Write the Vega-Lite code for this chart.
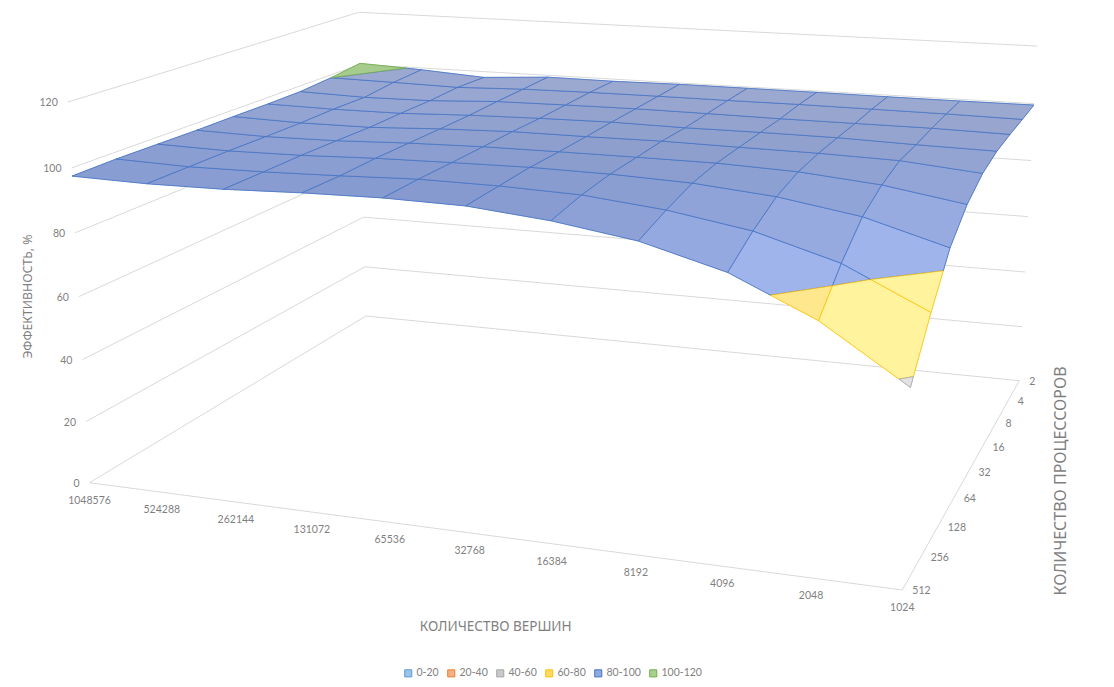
{
"$schema":"https://vega.github.io/schema/vega-lite/v6.json",
"width":1114,"height":687,"padding":0,
"autosize":{"type":"fit","contains":"padding"},
"background":"#ffffff",
"config":{"view":{"stroke":null}},
"datasets":{
"walls":[
{"level":"front","k":1,"i":0,"j":0,"e":0},{"level":"front","k":2,"i":10,"j":0,"e":0},{"level":"front","k":3,"i":10,"j":8,"e":0},
{"level":"0","k":1,"i":0,"j":0,"e":0},{"level":"0","k":2,"i":0,"j":8,"e":0},{"level":"0","k":3,"i":10,"j":8,"e":0},
{"level":"20","k":1,"i":0,"j":0,"e":20},{"level":"20","k":2,"i":0,"j":8,"e":20},{"level":"20","k":3,"i":10,"j":8,"e":20},
{"level":"40","k":1,"i":0,"j":0,"e":40},{"level":"40","k":2,"i":0,"j":8,"e":40},{"level":"40","k":3,"i":10,"j":8,"e":40},
{"level":"60","k":1,"i":0,"j":0,"e":60},{"level":"60","k":2,"i":0,"j":8,"e":60},{"level":"60","k":3,"i":10,"j":8,"e":60},
{"level":"80","k":1,"i":0,"j":0,"e":80},{"level":"80","k":2,"i":0,"j":8,"e":80},{"level":"80","k":3,"i":10,"j":8,"e":80},
{"level":"100","k":1,"i":0,"j":0,"e":100},{"level":"100","k":2,"i":0,"j":8,"e":100},{"level":"100","k":3,"i":10,"j":8,"e":100},
{"level":"120","k":1,"i":0,"j":0,"e":120},{"level":"120","k":2,"i":0,"j":8,"e":120},{"level":"120","k":3,"i":10,"j":8,"e":120}
],
"cells":[
{"cell":"0-0","band":"80-100","pts":[[0,0,97.5],[1,0,97.0],[1,1,97.1],[0,1,97.8],[0,0,97.5]]},
{"cell":"1-0","band":"80-100","pts":[[1,0,97.0],[2,0,97.2],[2,1,97.3],[1,1,97.1],[1,0,97.0]]},
{"cell":"2-0","band":"80-100","pts":[[2,0,97.2],[3,0,98.0],[3,1,97.9],[2,1,97.3],[2,0,97.2]]},
{"cell":"3-0","band":"80-100","pts":[[3,0,98.0],[4,0,98.4],[4,1,98.7],[3,1,97.9],[3,0,98.0]]},
{"cell":"4-0","band":"80-100","pts":[[4,0,98.4],[5,0,98.0],[5,1,98.5],[4,1,98.7],[4,0,98.4]]},
{"cell":"5-0","band":"80-100","pts":[[5,0,98.0],[6,0,95.7],[6,1,97.7],[5,1,98.5],[5,0,98.0]]},
{"cell":"6-0","band":"80-100","pts":[[6,0,95.7],[7,0,92.0],[7,1,95.2],[6,1,97.7],[6,0,95.7]]},
{"cell":"7-0","band":"80-100","pts":[[7,0,92.0],[8,0,85.3],[8,1,91.1],[7,1,95.2],[7,0,92.0]]},
{"cell":"8-0","band":"80-100","pts":[[8,0,85.3],[8.473,0,80],[9,0.602,80],[9,1,83.9],[8,1,91.1],[8,0,85.3]]},
{"cell":"8-0y","band":"60-80","pts":[[8.473,0,80],[9,0,74.1],[9,0.602,80],[8.473,0,80]]},
{"cell":"9-0","band":"80-100","pts":[[9,0.602,80],[9,1,83.9],[9.33,1,80],[9,0.602,80]]},
{"cell":"9-0y","band":"60-80","pts":[[9,0,74.1],[9.876,0,60],[10,0.14,60],[10,1,72.1],[9.33,1,80],[9,0.602,80],[9,0,74.1]]},
{"cell":"9-0g","band":"40-60","pts":[[9.876,0,60],[10,0,58.0],[10,0.14,60],[9.876,0,60]]},
{"cell":"0-1","band":"80-100","pts":[[0,1,97.8],[1,1,97.1],[1,2,97.2],[0,2,97.7],[0,1,97.8]]},
{"cell":"1-1","band":"80-100","pts":[[1,1,97.1],[2,1,97.3],[2,2,97.5],[1,2,97.2],[1,1,97.1]]},
{"cell":"2-1","band":"80-100","pts":[[2,1,97.3],[3,1,97.9],[3,2,98.3],[2,2,97.5],[2,1,97.3]]},
{"cell":"3-1","band":"80-100","pts":[[3,1,97.9],[4,1,98.7],[4,2,98.7],[3,2,98.3],[3,1,97.9]]},
{"cell":"4-1","band":"80-100","pts":[[4,1,98.7],[5,1,98.5],[5,2,99.0],[4,2,98.7],[4,1,98.7]]},
{"cell":"5-1","band":"80-100","pts":[[5,1,98.5],[6,1,97.7],[6,2,98.7],[5,2,99.0],[5,1,98.5]]},
{"cell":"6-1","band":"80-100","pts":[[6,1,97.7],[7,1,95.2],[7,2,97.8],[6,2,98.7],[6,1,97.7]]},
{"cell":"7-1","band":"80-100","pts":[[7,1,95.2],[8,1,91.1],[8,2,95.6],[7,2,97.8],[7,1,95.2]]},
{"cell":"8-1","band":"80-100","pts":[[8,1,91.1],[9,1,83.9],[9,2,91.6],[8,2,95.6],[8,1,91.1]]},
{"cell":"9-1","band":"80-100","pts":[[9.33,1,80],[10,1.637,80],[10,2,84.5],[9,2,91.6],[9,1,83.9],[9.33,1,80]]},
{"cell":"9-1y","band":"60-80","pts":[[9.33,1,80],[10,1,72.1],[10,1.637,80],[9.33,1,80]]},
{"cell":"0-2","band":"80-100","pts":[[0,2,97.7],[1,2,97.2],[1,3,97.1],[0,3,97.6],[0,2,97.7]]},
{"cell":"1-2","band":"80-100","pts":[[1,2,97.2],[2,2,97.5],[2,3,97.4],[1,3,97.1],[1,2,97.2]]},
{"cell":"2-2","band":"80-100","pts":[[2,2,97.5],[3,2,98.3],[3,3,98.3],[2,3,97.4],[2,2,97.5]]},
{"cell":"3-2","band":"80-100","pts":[[3,2,98.3],[4,2,98.7],[4,3,98.8],[3,3,98.3],[3,2,98.3]]},
{"cell":"4-2","band":"80-100","pts":[[4,2,98.7],[5,2,99.0],[5,3,98.9],[4,3,98.8],[4,2,98.7]]},
{"cell":"5-2","band":"80-100","pts":[[5,2,99.0],[6,2,98.7],[6,3,98.9],[5,3,98.9],[5,2,99.0]]},
{"cell":"6-2","band":"80-100","pts":[[6,2,98.7],[7,2,97.8],[7,3,98.8],[6,3,98.9],[6,2,98.7]]},
{"cell":"7-2","band":"80-100","pts":[[7,2,97.8],[8,2,95.6],[8,3,97.9],[7,3,98.8],[7,2,97.8]]},
{"cell":"8-2","band":"80-100","pts":[[8,2,95.6],[9,2,91.6],[9,3,95.7],[8,3,97.9],[8,2,95.6]]},
{"cell":"9-2","band":"80-100","pts":[[9,2,91.6],[10,2,84.5],[10,3,91.7],[9,3,95.7],[9,2,91.6]]},
{"cell":"0-3","band":"80-100","pts":[[0,3,97.6],[1,3,97.1],[1,4,97.1],[0,4,97.7],[0,3,97.6]]},
{"cell":"1-3","band":"80-100","pts":[[1,3,97.1],[2,3,97.4],[2,4,97.2],[1,4,97.1],[1,3,97.1]]},
{"cell":"2-3","band":"80-100","pts":[[2,3,97.4],[3,3,98.3],[3,4,98.3],[2,4,97.2],[2,3,97.4]]},
{"cell":"3-3","band":"80-100","pts":[[3,3,98.3],[4,3,98.8],[4,4,99.0],[3,4,98.3],[3,3,98.3]]},
{"cell":"4-3","band":"80-100","pts":[[4,3,98.8],[5,3,98.9],[5,4,99.0],[4,4,99.0],[4,3,98.8]]},
{"cell":"5-3","band":"80-100","pts":[[5,3,98.9],[6,3,98.9],[6,4,99.2],[5,4,99.0],[5,3,98.9]]},
{"cell":"6-3","band":"80-100","pts":[[6,3,98.9],[7,3,98.8],[7,4,98.9],[6,4,99.2],[6,3,98.9]]},
{"cell":"7-3","band":"80-100","pts":[[7,3,98.8],[8,3,97.9],[8,4,98.7],[7,4,98.9],[7,3,98.8]]},
{"cell":"8-3","band":"80-100","pts":[[8,3,97.9],[9,3,95.7],[9,4,98.1],[8,4,98.7],[8,3,97.9]]},
{"cell":"9-3","band":"80-100","pts":[[9,3,95.7],[10,3,91.7],[10,4,95.9],[9,4,98.1],[9,3,95.7]]},
{"cell":"0-4","band":"80-100","pts":[[0,4,97.7],[1,4,97.1],[1,5,97.4],[0,5,97.7],[0,4,97.7]]},
{"cell":"1-4","band":"80-100","pts":[[1,4,97.1],[2,4,97.2],[2,5,97.5],[1,5,97.4],[1,4,97.1]]},
{"cell":"2-4","band":"80-100","pts":[[2,4,97.2],[3,4,98.3],[3,5,98.4],[2,5,97.5],[2,4,97.2]]},
{"cell":"3-4","band":"80-100","pts":[[3,4,98.3],[4,4,99.0],[4,5,98.9],[3,5,98.4],[3,4,98.3]]},
{"cell":"4-4","band":"80-100","pts":[[4,4,99.0],[5,4,99.0],[5,5,99.2],[4,5,98.9],[4,4,99.0]]},
{"cell":"5-4","band":"80-100","pts":[[5,4,99.0],[6,4,99.2],[6,5,98.9],[5,5,99.2],[5,4,99.0]]},
{"cell":"6-4","band":"80-100","pts":[[6,4,99.2],[7,4,98.9],[7,5,99.0],[6,5,98.9],[6,4,99.2]]},
{"cell":"7-4","band":"80-100","pts":[[7,4,98.9],[8,4,98.7],[8,5,98.9],[7,5,99.0],[7,4,98.9]]},
{"cell":"8-4","band":"80-100","pts":[[8,4,98.7],[9,4,98.1],[9,5,98.3],[8,5,98.9],[8,4,98.7]]},
{"cell":"9-4","band":"80-100","pts":[[9,4,98.1],[10,4,95.9],[10,5,97.9],[9,5,98.3],[9,4,98.1]]},
{"cell":"0-5","band":"80-100","pts":[[0,5,97.7],[1,5,97.4],[1,6,97.3],[0,6,97.9],[0,5,97.7]]},
{"cell":"1-5","band":"80-100","pts":[[1,5,97.4],[2,5,97.5],[2,6,97.6],[1,6,97.3],[1,5,97.4]]},
{"cell":"2-5","band":"80-100","pts":[[2,5,97.5],[3,5,98.4],[3,6,98.8],[2,6,97.6],[2,5,97.5]]},
{"cell":"3-5","band":"80-100","pts":[[3,5,98.4],[4,5,98.9],[4,6,99.1],[3,6,98.8],[3,5,98.4]]},
{"cell":"4-5","band":"80-100","pts":[[4,5,98.9],[5,5,99.2],[5,6,99.3],[4,6,99.1],[4,5,98.9]]},
{"cell":"5-5","band":"80-100","pts":[[5,5,99.2],[6,5,98.9],[6,6,99.2],[5,6,99.3],[5,5,99.2]]},
{"cell":"6-5","band":"80-100","pts":[[6,5,98.9],[7,5,99.0],[7,6,99.0],[6,6,99.2],[6,5,98.9]]},
{"cell":"7-5","band":"80-100","pts":[[7,5,99.0],[8,5,98.9],[8,6,99.0],[7,6,99.0],[7,5,99.0]]},
{"cell":"8-5","band":"80-100","pts":[[8,5,98.9],[9,5,98.3],[9,6,99.0],[8,6,99.0],[8,5,98.9]]},
{"cell":"9-5","band":"80-100","pts":[[9,5,98.3],[10,5,97.9],[10,6,98.6],[9,6,99.0],[9,5,98.3]]},
{"cell":"0-6","band":"80-100","pts":[[0,6,97.9],[1,6,97.3],[1,7,98.6],[0,7,98.9],[0,6,97.9]]},
{"cell":"1-6","band":"80-100","pts":[[1,6,97.3],[2,6,97.6],[2,7,98.2],[1,7,98.6],[1,6,97.3]]},
{"cell":"2-6","band":"80-100","pts":[[2,6,97.6],[3,6,98.8],[3,7,99.0],[2,7,98.2],[2,6,97.6]]},
{"cell":"3-6","band":"80-100","pts":[[3,6,98.8],[4,6,99.1],[4,7,99.3],[3,7,99.0],[3,6,98.8]]},
{"cell":"4-6","band":"80-100","pts":[[4,6,99.1],[5,6,99.3],[5,7,99.4],[4,7,99.3],[4,6,99.1]]},
{"cell":"5-6","band":"80-100","pts":[[5,6,99.3],[6,6,99.2],[6,7,99.4],[5,7,99.4],[5,6,99.3]]},
{"cell":"6-6","band":"80-100","pts":[[6,6,99.2],[7,6,99.0],[7,7,99.5],[6,7,99.4],[6,6,99.2]]},
{"cell":"7-6","band":"80-100","pts":[[7,6,99.0],[8,6,99.0],[8,7,99.4],[7,7,99.5],[7,6,99.0]]},
{"cell":"8-6","band":"80-100","pts":[[8,6,99.0],[9,6,99.0],[9,7,99.3],[8,7,99.4],[8,6,99.0]]},
{"cell":"9-6","band":"80-100","pts":[[9,6,99.0],[10,6,98.6],[10,7,99.0],[9,7,99.3],[9,6,99.0]]},
{"cell":"0-7","band":"80-100","pts":[[0,7,98.9],[1,7,98.6],[1,8,99.3],[0.75,8,99.6],[0,7,98.9]]},
{"cell":"0-7g","band":"100-120","pts":[[0,7,98.9],[0.75,8,99.6],[0,8,100.4],[0,7,98.9]]},
{"cell":"1-7","band":"80-100","pts":[[1,7,98.6],[2,7,98.2],[2,8,97.8],[1,8,99.3],[1,7,98.6]]},
{"cell":"2-7","band":"80-100","pts":[[2,7,98.2],[3,7,99.0],[3,8,99.3],[2,8,97.8],[2,7,98.2]]},
{"cell":"3-7","band":"80-100","pts":[[3,7,99.0],[4,7,99.3],[4,8,99.2],[3,8,99.3],[3,7,99.0]]},
{"cell":"4-7","band":"80-100","pts":[[4,7,99.3],[5,7,99.4],[5,8,99.5],[4,8,99.2],[4,7,99.3]]},
{"cell":"5-7","band":"80-100","pts":[[5,7,99.4],[6,7,99.4],[6,8,99.5],[5,8,99.5],[5,7,99.4]]},
{"cell":"6-7","band":"80-100","pts":[[6,7,99.4],[7,7,99.5],[7,8,99.5],[6,8,99.5],[6,7,99.4]]},
{"cell":"7-7","band":"80-100","pts":[[7,7,99.5],[8,7,99.4],[8,8,99.4],[7,8,99.5],[7,7,99.5]]},
{"cell":"8-7","band":"80-100","pts":[[8,7,99.4],[9,7,99.3],[9,8,99.4],[8,8,99.4],[8,7,99.4]]},
{"cell":"9-7","band":"80-100","pts":[[9,7,99.3],[10,7,99.0],[10,8,99.5],[9,8,99.4],[9,7,99.3]]}
]
},
"encoding":{
"x":{"field":"px","type":"quantitative","axis":null,"scale":{"domain":[0,1114],"nice":false,"zero":false}},
"y":{"field":"py","type":"quantitative","axis":null,"scale":{"domain":[687,0],"nice":false,"zero":false}}
},
"layer":[
{"data":{"name":"walls"},
"transform":[
{"calculate":"1-0.012135*datum.i+0.033234*datum.j-0.0434*datum.e/120","as":"w"},
{"calculate":"(70.331*datum.i+46.726*datum.j+89.5-24.7*datum.e/120)/datum.w","as":"px"},
{"calculate":"(3.57*datum.i-10.336*datum.j+482.7-385*datum.e/120)/datum.w","as":"py"}],
"mark":{"type":"line","stroke":"#d9d9d9","strokeWidth":1},
"encoding":{"detail":{"field":"level"},"order":{"field":"k","type":"quantitative"}}},
{"data":{"name":"cells"},
"transform":[
{"flatten":["pts"]},
{"calculate":"datum.pts[0]","as":"i"},{"calculate":"datum.pts[1]","as":"j"},{"calculate":"datum.pts[2]","as":"e"},
{"window":[{"op":"row_number","as":"k"}],"groupby":["cell"]},
{"calculate":"1-0.012135*datum.i+0.033234*datum.j-0.0434*datum.e/120","as":"w"},
{"calculate":"(70.331*datum.i+46.726*datum.j+89.5-24.7*datum.e/120)/datum.w","as":"px"},
{"calculate":"(3.57*datum.i-10.336*datum.j+482.7-385*datum.e/120)/datum.w","as":"py"}],
"mark":{"type":"line","strokeWidth":0.5,"strokeJoin":"round"},
"encoding":{"detail":{"field":"cell"},"order":{"field":"k","type":"quantitative"},
"fill":{"field":"band","type":"nominal","scale":{"domain":["0-20","20-40","40-60","60-80","80-100","100-120"],"range":["#9dc3e6","#f4b183","#c9c9c9","#ffd966","#8faadc","#a9d18e"]},
"legend":{"title":null,"orient":"none","legendX":403,"legendY":668,"direction":"horizontal","columns":6,"symbolType":"square","symbolSize":50,"symbolStrokeWidth":1,"labelFont":"Lato","labelFontSize":10.5,"labelColor":"#7f7f7f","columnPadding":6,"labelOffset":3}},
"stroke":{"field":"band","type":"nominal","scale":{"domain":["0-20","20-40","40-60","60-80","80-100","100-120"],"range":["#5b9bd5","#ed7d31","#a5a5a5","#ffc000","#4472c4","#70ad47"]},
"legend":{"title":null,"orient":"none","legendX":403,"legendY":668,"direction":"horizontal","columns":6,"symbolType":"square","symbolSize":50,"symbolStrokeWidth":1,"labelFont":"Lato","labelFontSize":10.5,"labelColor":"#7f7f7f","columnPadding":6,"labelOffset":3}}}},
{"data":{"name":"cells"},
"transform":[
{"flatten":["pts"]},
{"calculate":"datum.pts[0]","as":"i"},{"calculate":"datum.pts[1]","as":"j"},{"calculate":"datum.pts[2]","as":"e"},
{"window":[{"op":"row_number","as":"k"}],"groupby":["cell"]},
{"joinaggregate":[{"op":"mean","field":"e","as":"me"},{"op":"mean","field":"j","as":"mj"}],"groupby":["cell"]},
{"calculate":"pow(clamp((99-datum.me)/15,0,1),0.8)","as":"st"},
{"calculate":"datum.mj/8","as":"bk"},
{"calculate":"clamp((80-datum.me)/10+datum.mj*0.8,0,1)","as":"yt"},
{"calculate":"datum.band==='80-100' ? 'rgb('+round((130+27*datum.bk)*(1-datum.st)+160*datum.st)+','+round((151+18*datum.bk)*(1-datum.st)+180*datum.st)+','+round((204+3*datum.bk)*(1-datum.st)+236*datum.st)+')' : datum.band==='60-80' ? 'rgb('+round(253+2*datum.yt)+','+round(226+17*datum.yt)+','+round(135+22*datum.yt)+')' : datum.band==='40-60' ? '#e2e2e2' : '#a7ca8d'","as":"shade"},
{"calculate":"1-0.012135*datum.i+0.033234*datum.j-0.0434*datum.e/120","as":"w"},
{"calculate":"(70.331*datum.i+46.726*datum.j+89.5-24.7*datum.e/120)/datum.w","as":"px"},
{"calculate":"(3.57*datum.i-10.336*datum.j+482.7-385*datum.e/120)/datum.w","as":"py"}],
"mark":{"type":"line","strokeWidth":0.9,"strokeOpacity":0.8,"strokeJoin":"round"},
"encoding":{"detail":{"field":"cell"},"order":{"field":"k","type":"quantitative"},
"fill":{"field":"shade","type":"nominal","scale":null},
"stroke":{"field":"band","type":"nominal","legend":null}}},
{"data":{"values":[{"label":"0","e":0},{"label":"20","e":20},{"label":"40","e":40},{"label":"60","e":60},{"label":"80","e":80},{"label":"100","e":100},{"label":"120","e":120}]},
"transform":[
{"calculate":"0","as":"i"},{"calculate":"0","as":"j"},
{"calculate":"1-0.012135*datum.i+0.033234*datum.j-0.0434*datum.e/120","as":"w"},
{"calculate":"(70.331*datum.i+46.726*datum.j+89.5-24.7*datum.e/120)/datum.w","as":"px"},
{"calculate":"(3.57*datum.i-10.336*datum.j+482.7-385*datum.e/120)/datum.w","as":"py"}],
"mark":{"type":"text","align":"right","baseline":"middle","dx":-10,"dy":1,"font":"Lato","fontSize":10.5,"color":"#7f7f7f"},
"encoding":{"text":{"field":"label"}}},
{"data":{"values":[{"label":"1048576","i":0},{"label":"524288","i":1},{"label":"262144","i":2},{"label":"131072","i":3},{"label":"65536","i":4},{"label":"32768","i":5},{"label":"16384","i":6},{"label":"8192","i":7},{"label":"4096","i":8},{"label":"2048","i":9},{"label":"1024","i":10}]},
"transform":[
{"calculate":"0","as":"j"},{"calculate":"0","as":"e"},
{"calculate":"1-0.012135*datum.i+0.033234*datum.j-0.0434*datum.e/120","as":"w"},
{"calculate":"(70.331*datum.i+46.726*datum.j+89.5-24.7*datum.e/120)/datum.w","as":"px"},
{"calculate":"(3.57*datum.i-10.336*datum.j+482.7-385*datum.e/120)/datum.w","as":"py"}],
"mark":{"type":"text","align":"center","baseline":"middle","dy":18,"font":"Lato","fontSize":10.5,"color":"#7f7f7f"},
"encoding":{"text":{"field":"label"}}},
{"data":{"values":[{"label":"512","j":0},{"label":"256","j":1},{"label":"128","j":2},{"label":"64","j":3},{"label":"32","j":4},{"label":"16","j":5},{"label":"8","j":6},{"label":"4","j":7},{"label":"2","j":8}]},
"transform":[
{"calculate":"10","as":"i"},{"calculate":"0","as":"e"},
{"calculate":"1-0.012135*datum.i+0.033234*datum.j-0.0434*datum.e/120","as":"w"},
{"calculate":"(70.331*datum.i+46.726*datum.j+89.5-24.7*datum.e/120)/datum.w","as":"px"},
{"calculate":"(3.57*datum.i-10.336*datum.j+482.7-385*datum.e/120)/datum.w","as":"py"}],
"mark":{"type":"text","align":"left","baseline":"middle","dx":10,"dy":1,"font":"Lato","fontSize":10.5,"color":"#7f7f7f"},
"encoding":{"text":{"field":"label"}}},
{"data":{"values":[{"label":"КОЛИЧЕСТВО ВЕРШИН","i":5,"j":0,"e":0}]},
"transform":[
{"calculate":"1-0.012135*datum.i+0.033234*datum.j-0.0434*datum.e/120","as":"w"},
{"calculate":"(70.331*datum.i+46.726*datum.j+89.5-24.7*datum.e/120)/datum.w","as":"px"},
{"calculate":"(3.57*datum.i-10.336*datum.j+482.7-385*datum.e/120)/datum.w","as":"py"}],
"mark":{"type":"text","align":"center","baseline":"middle","dx":26,"dy":94,"font":"Noto Sans","fontSize":13.5,"color":"#7f7f7f"},
"encoding":{"text":{"field":"label"}}},
{"data":{"values":[{"label":"ЭФФЕКТИВНОСТЬ, %","i":0,"j":0,"e":60}]},
"transform":[
{"calculate":"1-0.012135*datum.i+0.033234*datum.j-0.0434*datum.e/120","as":"w"},
{"calculate":"(70.331*datum.i+46.726*datum.j+89.5-24.7*datum.e/120)/datum.w","as":"px"},
{"calculate":"(3.57*datum.i-10.336*datum.j+482.7-385*datum.e/120)/datum.w","as":"py"}],
"mark":{"type":"text","align":"center","baseline":"middle","angle":270,"dx":0,"dy":-51,"font":"Noto Sans","fontSize":12.3,"color":"#7f7f7f"},
"encoding":{"text":{"field":"label"}}},
{"data":{"values":[{"label":"КОЛИЧЕСТВО ПРОЦЕССОРОВ","i":10,"j":4,"e":0}]},
"transform":[
{"calculate":"1-0.012135*datum.i+0.033234*datum.j-0.0434*datum.e/120","as":"w"},
{"calculate":"(70.331*datum.i+46.726*datum.j+89.5-24.7*datum.e/120)/datum.w","as":"px"},
{"calculate":"(3.57*datum.i-10.336*datum.j+482.7-385*datum.e/120)/datum.w","as":"py"}],
"mark":{"type":"text","align":"center","baseline":"middle","angle":270,"dx":-9.4,"dy":93,"font":"Noto Sans","fontSize":16,"color":"#7f7f7f"},
"encoding":{"text":{"field":"label"}}}
]
}
